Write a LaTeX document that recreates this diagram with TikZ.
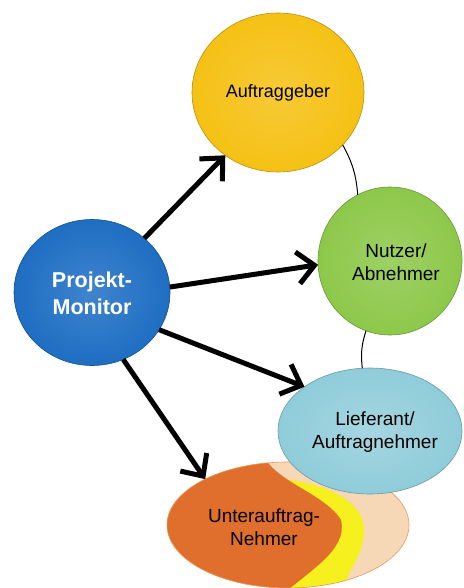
\documentclass[tikz,border=0pt]{standalone}
\usepackage{fontspec}
\setmainfont{Liberation Sans}
\usetikzlibrary{shapes.geometric,arrows.meta}
\definecolor{agc}{RGB}{245,193,20}
\definecolor{pmc}{RGB}{30,110,195}
\definecolor{nuc}{RGB}{141,200,74}
\definecolor{lic}{RGB}{143,204,217}
\definecolor{orc}{RGB}{224,110,45}
\definecolor{ylc}{RGB}{245,240,30}
\definecolor{pec}{RGB}{247,216,182}
\begin{document}
\begin{tikzpicture}[x=1pt,y=-1pt,
  bub/.style={ellipse, inner sep=0pt, outer sep=0pt, line width=0.6pt},
  arr/.style={line width=5pt, -{Straight Barb[length=17pt,width=32pt]}},
  link/.style={line width=1pt, black},
  lbl/.style={align=center, font=\fontsize{19}{23}\selectfont},
  pmlbl/.style={align=center, text=white, font=\fontsize{21.5}{27}\selectfont\bfseries}]
\useasboundingbox (0,0) rectangle (463,588);
\clip (0,0) rectangle (463,588);
\fill[white] (0,0) rectangle (463,588);

% Unterauftrag-Nehmer (three-coloured ellipse)
\fill[pec] (288,525) ellipse [x radius=121, y radius=63];
\begin{scope}
  \clip (288,525) ellipse [x radius=121, y radius=63];
  \fill[ylc] (150,440) -- (240,440) -- (275,478) .. controls (300,480) and (340,488) .. (357,510)
     .. controls (372,530) and (360,555) .. (348,575) -- (342,600) -- (150,600) -- cycle;
  \fill[orc] (150,450) -- (262,450) .. controls (268,480) and (324,492) .. (341,520)
     .. controls (348,550) and (310,570) .. (276,600) -- (150,600) -- cycle;
\end{scope}
\node[bub, draw=orc!60!pec, minimum width=242pt, minimum height=126pt] (ua) at (288,525) {};
\node[lbl] (uatxt) at (264,527) {Unterauftrag-\\Nehmer};

% Lieferant
\node[bub, draw=lic!75!black, inner color=lic!80!white, outer color=lic,
      minimum width=184pt, minimum height=126pt] (li) at (370,431) {};
\node[lbl] (litxt) at (375,432) {Lieferant/\\Auftragnehmer};

% Nutzer
\node[bub, draw=nuc!75!black, inner color=nuc!85!white, outer color=nuc,
      minimum width=144pt, minimum height=148pt] (nu) at (390,261) {};
\node[lbl] (nutxt) at (396,262) {Nutzer/\\Abnehmer};

% Auftraggeber
\node[bub, draw=agc!75!black, inner color=agc!85!white, outer color=agc,
      minimum width=172pt, minimum height=159pt] (ag) at (278,92.5) {};
\node[font=\fontsize{18}{22}\selectfont] (agtxt) at (278,93) {Auftraggeber};

% Projekt-Monitor
\node[bub, draw=pmc!75!black, inner color=pmc!85!white, outer color=pmc,
      minimum width=156pt, minimum height=146pt] (pm) at (92,292.5) {};
\node[pmlbl] (pmtxt) at (92,293) {Projekt-\\Monitor};

% thin links
\draw[link] (ag.-39) to[bend left=12] (nu.116);
\draw[link] (nu.-109) to[bend right=12] (li.97);

% arrows
\draw[arr] (pm.46) -- (ag.-130);
\draw[arr] (pm.4) -- (nu.-177);
\draw[arr] (pm.-29) -- (li.146);
\draw[arr] (pm.-65) -- (ua.151);
\end{tikzpicture}
\end{document}
